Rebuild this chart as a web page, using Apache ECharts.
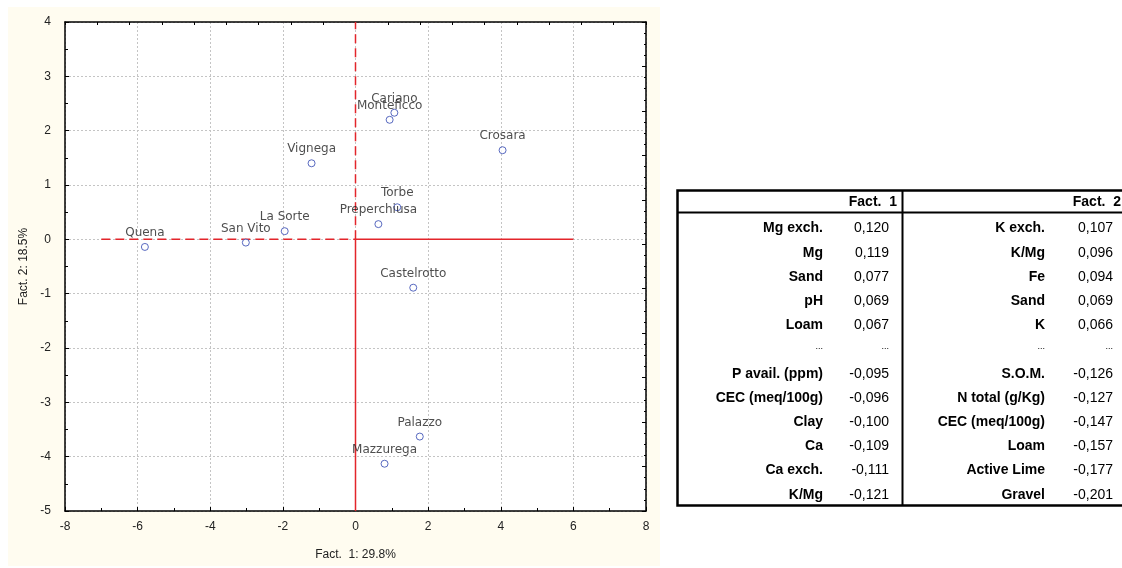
<!DOCTYPE html>
<html>
<head>
<meta charset="utf-8">
<script src="https://cdn.jsdelivr.net/npm/echarts@6/dist/echarts.min.js"></script>
<style>
  html, body { margin: 0; padding: 0; background: #fff; }
  #main { width: 1122px; height: 568px; }
</style>
</head>
<body>
<div id="main"></div>
<script>
// sites projected on the first two factors
var siteNames = ['Quena', 'San Vito', 'La Sorte', 'Vignega', 'Cariano', 'Monteficco',
                 'Crosara', 'Torbe', 'Preperchiusa', 'Castelrotto', 'Palazzo', 'Mazzurega'];
var fact1 = [-5.80, -3.02, -1.95, -1.21, 1.07, 0.94, 4.05, 1.15, 0.63, 1.59, 1.77, 0.80];
var fact2 = [-0.14, -0.06, 0.15, 1.40, 2.33, 2.20, 1.64, 0.59, 0.28, -0.89, -3.63, -4.13];

// red reference axes
var hDashed = [[-7, 0], [0, 0]];
var hSolid = [[0, 0], [6, 0]];
var vDashed = [[0, 0], [0, 4]];
var vSolid = [[0, 0], [0, -5]];

// loadings table
var f1Vars = ['Mg exch.', 'Mg', 'Sand', 'pH', 'Loam', null,
              'P avail. (ppm)', 'CEC (meq/100g)', 'Clay', 'Ca', 'Ca exch.', 'K/Mg'];
var f1Vals = [0.120, 0.119, 0.077, 0.069, 0.067, null,
              -0.095, -0.096, -0.100, -0.109, -0.111, -0.121];
var f2Vars = ['K exch.', 'K/Mg', 'Fe', 'Sand', 'K', null,
              'S.O.M.', 'N total (g/Kg)', 'CEC (meq/100g)', 'Loam', 'Active Lime', 'Gravel'];
var f2Vals = [0.107, 0.096, 0.094, 0.069, 0.066, null,
              -0.126, -0.127, -0.147, -0.157, -0.177, -0.201];

var chart = echarts.init(document.getElementById('main'));

var pts = siteNames.map(function (n, i) {
    return { name: n, value: [fact1[i], fact2[i]] };
});

var fmt = function (v) {
    return v.toFixed(3).replace('.', ',');
};

// table drawn as graphic text
var tbl = [];
var rowY = function (i) { return 228.5 + 24.2 * i; };
var addCol = function (vars, vals, labelX, valX) {
    vars.forEach(function (name, i) {
        var dots = name === null;
        tbl.push({
            type: 'text', x: labelX, y: rowY(i) - (dots ? 3 : 0),
            style: { text: dots ? '...' : name, align: 'right', verticalAlign: 'middle',
                     font: (dots ? '9px' : 'bold 14px') + ' "Liberation Sans", Arial', fill: '#000' }
        });
        tbl.push({
            type: 'text', x: valX, y: rowY(i) - (dots ? 3 : 0),
            style: { text: dots ? '...' : fmt(vals[i]), align: 'right', verticalAlign: 'middle',
                     font: (dots ? '9px' : '14px') + ' "Liberation Sans", Arial', fill: '#000' }
        });
    });
};
addCol(f1Vars, f1Vals, 823, 889);
addCol(f2Vars, f2Vals, 1045, 1113);
tbl.push(
    { type: 'text', x: 897, y: 202, style: { text: 'Fact.  1', align: 'right', verticalAlign: 'middle', font: 'bold 14px "Liberation Sans", Arial', fill: '#000' } },
    { type: 'text', x: 1121, y: 202, style: { text: 'Fact.  2', align: 'right', verticalAlign: 'middle', font: 'bold 14px "Liberation Sans", Arial', fill: '#000' } },
    { type: 'rect', shape: { x: 677.5, y: 190.5, width: 460, height: 315 }, style: { fill: null, stroke: '#000', lineWidth: 2.5 } },
    { type: 'line', shape: { x1: 677, y1: 212.5, x2: 1122, y2: 212.5 }, style: { stroke: '#000', lineWidth: 2 } },
    { type: 'line', shape: { x1: 902.5, y1: 190, x2: 902.5, y2: 506 }, style: { stroke: '#000', lineWidth: 2 } }
);

var redLine = function (data, dashed) {
    return {
        type: 'line', data: data, symbol: 'none', silent: true, z: 3,
        lineStyle: { color: '#e3252b', width: 1.5, type: dashed ? [9, 5] : 'solid' }
    };
};

var option = {
    animation: false,
    textStyle: { fontFamily: '"Liberation Sans", Arial, sans-serif' },
    graphic: [
        { type: 'rect', z: -10, shape: { x: 8, y: 7, width: 652, height: 559 }, style: { fill: '#fffcf0' } }
    ].concat(tbl),
    grid: { left: 65, top: 22, width: 581, height: 489, show: true, backgroundColor: '#fff', borderWidth: 0 },
    xAxis: [
        {
            type: 'value', min: -8, max: 8, interval: 2,
            name: 'Fact.  1: 29.8%', nameLocation: 'middle', nameGap: 38,
            nameTextStyle: { fontSize: 12, color: '#222' },
            axisLine: { onZero: false, lineStyle: { color: '#000', width: 1.5 } },
            axisTick: { inside: true, length: 4, lineStyle: { color: '#000' } },
            minorTick: { show: true, splitNumber: 2, length: 3, lineStyle: { color: '#000' } },
            axisLabel: { fontSize: 12, color: '#222', margin: 10 },
            splitLine: { show: true, lineStyle: { color: '#c4c4c4', type: [2, 2] } }
        },
        {
            type: 'value', position: 'top', min: 0, max: 18, interval: 1,
            axisLine: { onZero: false, lineStyle: { color: '#000', width: 1.5 } },
            axisTick: { inside: true, length: 3, lineStyle: { color: '#000' } },
            axisLabel: { show: false }, splitLine: { show: false }
        }
    ],
    yAxis: [
        {
            type: 'value', min: -5, max: 4, interval: 1,
            name: 'Fact. 2: 18.5%', nameLocation: 'middle', nameGap: 29, nameRotate: 90,
            nameTextStyle: { fontSize: 12, color: '#222' },
            axisLine: { onZero: false, lineStyle: { color: '#000', width: 1.5 } },
            axisTick: { inside: true, length: 4, lineStyle: { color: '#000' } },
            minorTick: { show: true, splitNumber: 2, length: 3, lineStyle: { color: '#000' } },
            axisLabel: { fontSize: 12, color: '#222', margin: 14 },
            splitLine: { show: true, lineStyle: { color: '#c4c4c4', type: [2, 2] } }
        },
        {
            type: 'value', position: 'right', min: 0, max: 11, interval: 1,
            axisLine: { onZero: false, lineStyle: { color: '#000', width: 1.5 } },
            axisTick: { inside: true, length: 4, lineStyle: { color: '#000' } },
            minorTick: { show: true, splitNumber: 4, length: 2, lineStyle: { color: '#000' } },
            axisLabel: { show: false }, splitLine: { show: false }
        }
    ],
    series: [
        redLine(hDashed, true),
        redLine(hSolid, false),
        redLine(vDashed, true),
        redLine(vSolid, false),
        {
            type: 'scatter', data: pts, z: 5,
            symbol: 'circle', symbolSize: 7,
            itemStyle: { color: '#fff', borderColor: '#2f45b0', borderWidth: 1 },
            label: {
                show: true, position: 'top', distance: 4,
                formatter: '{b}', fontSize: 12, color: '#222',
                fontFamily: '"DejaVu Sans", sans-serif'
            }
        }
    ]
};

chart.setOption(option);
</script>
</body>
</html>
